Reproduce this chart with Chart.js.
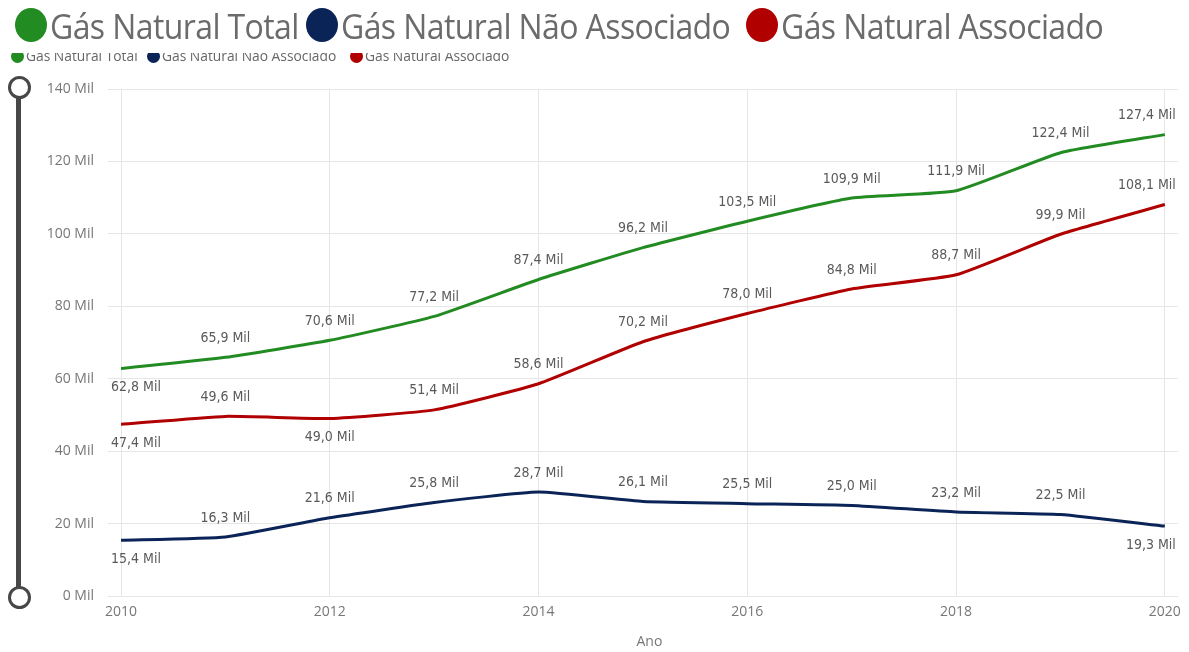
<!DOCTYPE html>
<html>
<head>
<meta charset="utf-8">
<script src="https://cdn.jsdelivr.net/npm/chart.js@4.4.1/dist/chart.umd.min.js"></script>
<style>
  html, body { margin: 0; padding: 0; background: #fff; }
  body { width: 1189px; height: 652px; position: relative; overflow: hidden; font-family: "Open Sans", sans-serif; }
  #chartWrap { position: absolute; left: 0; top: 0; width: 1189px; height: 652px; }
  .bigLegend { position: absolute; left: 0; top: 0; height: 50px; white-space: nowrap; }
  .bigItem { position: absolute; top: 0; display: flex; align-items: center; height: 50px; }
  .bigDot { width: 32px; height: 34px; border-radius: 50%; margin-right: 3px; flex: none; }
  .bigText { font-family: "Open Sans", sans-serif; font-size: 32px; color: #6b6b6b; display: inline-block; letter-spacing: -0.6px; transform: scaleY(1.1); transform-origin: left center; }
  .smallLegend { position: absolute; left: 0; top: 53px; height: 11px; width: 600px; overflow: hidden; }
  .smallInner { position: absolute; top: -5px; left: 0; width: 600px; height: 20px; white-space: nowrap; }
  .smallItem { position: absolute; top: 0; display: flex; align-items: center; font-family: "Open Sans", sans-serif; font-size: 13.8px; color: #666; line-height: 16px; }
  .smallDot { width: 13px; height: 13px; border-radius: 50%; margin-right: 2px; flex: none; }
  .slider { position: absolute; left: 16px; top: 88px; width: 5px; height: 509px; background: #474747; }
  .knob { position: absolute; width: 17px; height: 17px; border-radius: 50%; border: 3px solid #474747; background: #fff; left: 8px; }
</style>
</head>
<body>
<div id="chartWrap"><canvas id="c" width="1189" height="652"></canvas></div>

<div class="bigLegend" id="bigLegend"></div>
<div class="smallLegend"><div class="smallInner" id="smallLegend"></div></div>

<div class="slider"></div>
<div class="knob" style="top:76px"></div>
<div class="knob" style="top:586px"></div>

<script>
// ---- Data ----
const years = [2010, 2011, 2012, 2013, 2014, 2015, 2016, 2017, 2018, 2019, 2020];
const seriesNames = ["Gás Natural Total", "Gás Natural Não Associado", "Gás Natural Associado"];
const gasTotal = [62.8, 65.9, 70.6, 77.2, 87.4, 96.2, 103.5, 109.9, 111.9, 122.4, 127.4];
const gasNaoAssociado = [15.4, 16.3, 21.6, 25.8, 28.7, 26.1, 25.5, 25.0, 23.2, 22.5, 19.3];
const gasAssociado = [47.4, 49.6, 49.0, 51.4, 58.6, 70.2, 78.0, 84.8, 88.7, 99.9, 108.1];
const yTicks = [0, 20, 40, 60, 80, 100, 120, 140];
const xTicks = [2010, 2012, 2014, 2016, 2018, 2020];

// ---- Styles (separate from data) ----
const colors = ["#228B22", "#0B2458", "#B00000"];
// label placement per series: 1 = above, -1 = below
const labelSide = [
  [-1, 1, 1, 1, 1, 1, 1, 1, 1, 1, 1],
  [-1, 1, 1, 1, 1, 1, 1, 1, 1, 1, -1],
  [-1, 1, -1, 1, 1, 1, 1, 1, 1, 1, 1]
];

// ---- Legends (HTML) ----
const bigPos = [15, 306, 746];
const smallPos = [11, 147, 350];
const big = document.getElementById('bigLegend');
const small = document.getElementById('smallLegend');
seriesNames.forEach((n, i) => {
  const d = document.createElement('div');
  d.className = 'bigItem'; d.style.left = bigPos[i] + 'px';
  d.innerHTML = '<span class="bigDot" style="background:' + colors[i] + '"></span><span class="bigText">' + n + '</span>';
  big.appendChild(d);
  const s = document.createElement('div');
  s.className = 'smallItem'; s.style.left = smallPos[i] + 'px';
  s.innerHTML = '<span class="smallDot" style="background:' + colors[i] + '"></span><span>' + n + '</span>';
  small.appendChild(s);
});

// ---- Chart ----
const toPoints = arr => arr.map((v, i) => ({ x: years[i], y: v }));
const fmt = v => v.toFixed(1).replace('.', ',') + ' Mil';

const labelPlugin = {
  id: 'valueLabels',
  afterDatasetsDraw(chart) {
    const ctx = chart.ctx;
    const area = chart.chartArea;
    ctx.save();
    ctx.font = '14px "DejaVu Sans Condensed", "DejaVu Sans", sans-serif';
    ctx.fillStyle = '#5a5a5a';
    ctx.textBaseline = 'middle';
    ctx.textAlign = 'left';
    chart.data.datasets.forEach((ds, di) => {
      const meta = chart.getDatasetMeta(di);
      meta.data.forEach((pt, i) => {
        const txt = fmt(ds.data[i].y);
        const w = ctx.measureText(txt).width;
        let x = pt.x - w / 2;
        if (x < area.left - 10) x = area.left - 10;
        if (x + w > area.right - 2) x = area.right - 2 - w;
        const y = pt.y - labelSide[di][i] * 19;
        ctx.fillText(txt, x, y);
      });
    });
    ctx.restore();
  }
};

const datasets = [gasTotal, gasNaoAssociado, gasAssociado].map((arr, i) => ({
  label: seriesNames[i],
  data: toPoints(arr),
  borderColor: colors[i],
  backgroundColor: colors[i],
  borderWidth: 3,
  pointRadius: 0,
  tension: 0.15,
  fill: false
}));

new Chart(document.getElementById('c'), {
  type: 'line',
  data: { datasets },
  plugins: [labelPlugin],
  options: {
    responsive: false,
    animation: false,
    layout: { padding: { top: 89, right: 11, bottom: 0, left: 0 } },
    plugins: { legend: { display: false }, tooltip: { enabled: false } },
    scales: {
      x: {
        type: 'linear',
        min: 2010,
        max: 2020.1245,
        afterBuildTicks: s => { s.ticks = xTicks.map(v => ({ value: v })); },
        afterFit: s => { s.height = 56; },
        ticks: { padding: 8, color: '#777', font: { family: '"Open Sans", sans-serif', size: 14 }, maxRotation: 0, callback: v => String(v) },
        grid: { color: '#e6e6e6', lineWidth: 1, drawTicks: false },
        border: { color: '#e6e6e6' },
        title: { display: true, text: 'Ano', color: '#777', font: { family: '"Open Sans", sans-serif', size: 14 }, padding: { top: 0, bottom: 2 } }
      },
      y: {
        min: 0,
        max: 140,
        afterBuildTicks: s => { s.ticks = yTicks.map(v => ({ value: v })); },
        afterFit: s => { s.width = 121; },
        ticks: { padding: 14, color: '#777', font: { family: '"Open Sans", sans-serif', size: 14 }, callback: v => v + ' Mil' },
        grid: { color: '#e6e6e6', lineWidth: 1, tickLength: 13 },
        border: { color: '#e6e6e6' }
      }
    }
  }
});
</script>
</body>
</html>
